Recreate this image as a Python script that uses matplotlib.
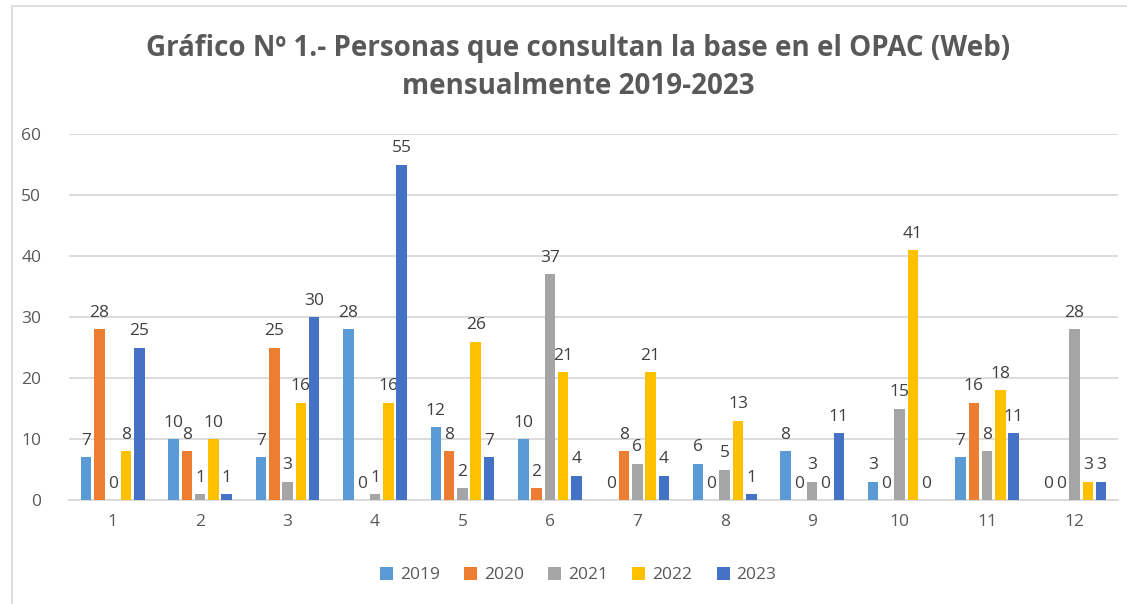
import numpy as np
import matplotlib.pyplot as plt
from matplotlib.patches import Rectangle

months = [str(m) for m in range(1, 13)]
years = ['2019', '2020', '2021', '2022', '2023']
v2019 = [7, 10, 7, 28, 12, 10, 0, 6, 8, 3, 7, 0]
v2020 = [28, 8, 25, 0, 8, 2, 8, 0, 0, 0, 16, 0]
v2021 = [0, 1, 3, 1, 2, 37, 6, 5, 3, 15, 8, 28]
v2022 = [8, 10, 16, 16, 26, 21, 21, 13, 0, 41, 18, 3]
v2023 = [25, 1, 30, 55, 7, 4, 4, 1, 11, 0, 11, 3]
colors = ['#5B9BD5', '#ED7D31', '#A5A5A5', '#FFC000', '#4472C4']

plt.rcParams['font.family'] = ['Open Sans', 'DejaVu Sans']

fig = plt.figure(figsize=(11.27, 6.04), dpi=100)
ax = fig.add_axes([0.0612, 0.172, 0.931, 0.606])

x = np.arange(len(months))
slot = 0.152
width = 0.12
series = [v2019, v2020, v2021, v2022, v2023]
for i, (yr, vals, c) in enumerate(zip(years, series, colors)):
    pos = x + (i - 2) * slot
    bars = ax.bar(pos, vals, width, color=c, label=yr, zorder=3)
    ax.bar_label(bars, labels=[str(v) for v in vals], padding=6,
                 fontsize=12.5, color='#404040')

ax.set_xlim(-0.5, 11.5)
ax.set_ylim(0, 60)
ax.set_yticks(range(0, 61, 10))
ax.set_xticks(x)
ax.set_xticklabels(months)
ax.grid(axis='y', color='#D9D9D9', linewidth=1.3, zorder=0)
for s in ['top', 'right', 'left']:
    ax.spines[s].set_visible(False)
ax.spines['bottom'].set_color('#D9D9D9')
ax.spines['bottom'].set_linewidth(1.3)
ax.tick_params(axis='both', length=0, labelsize=12.5, colors='#595959')
ax.tick_params(axis='y', pad=20)
ax.tick_params(axis='x', pad=10)

fig.text(0.513, 0.888, 'Gráfico Nº 1.- Personas que consultan la base en el OPAC (Web)\nmensualmente 2019-2023',
         ha='center', va='center', fontsize=20, fontweight='bold', color='#595959',
         linespacing=1.4)

leg = fig.legend(loc='center', bbox_to_anchor=(0.513, 0.048), ncol=5, frameon=False,
                 fontsize=12.5, handlelength=0.75, handleheight=0.75, columnspacing=1.4,
                 handletextpad=0.4)
for t in leg.get_texts():
    t.set_color('#595959')

fig.patches.append(Rectangle((0.011, -0.01), 1.0, 1.0, transform=fig.transFigure,
                             fill=False, edgecolor='#D9D9D9', linewidth=1.2))

fig.savefig('out.png', dpi=100)
